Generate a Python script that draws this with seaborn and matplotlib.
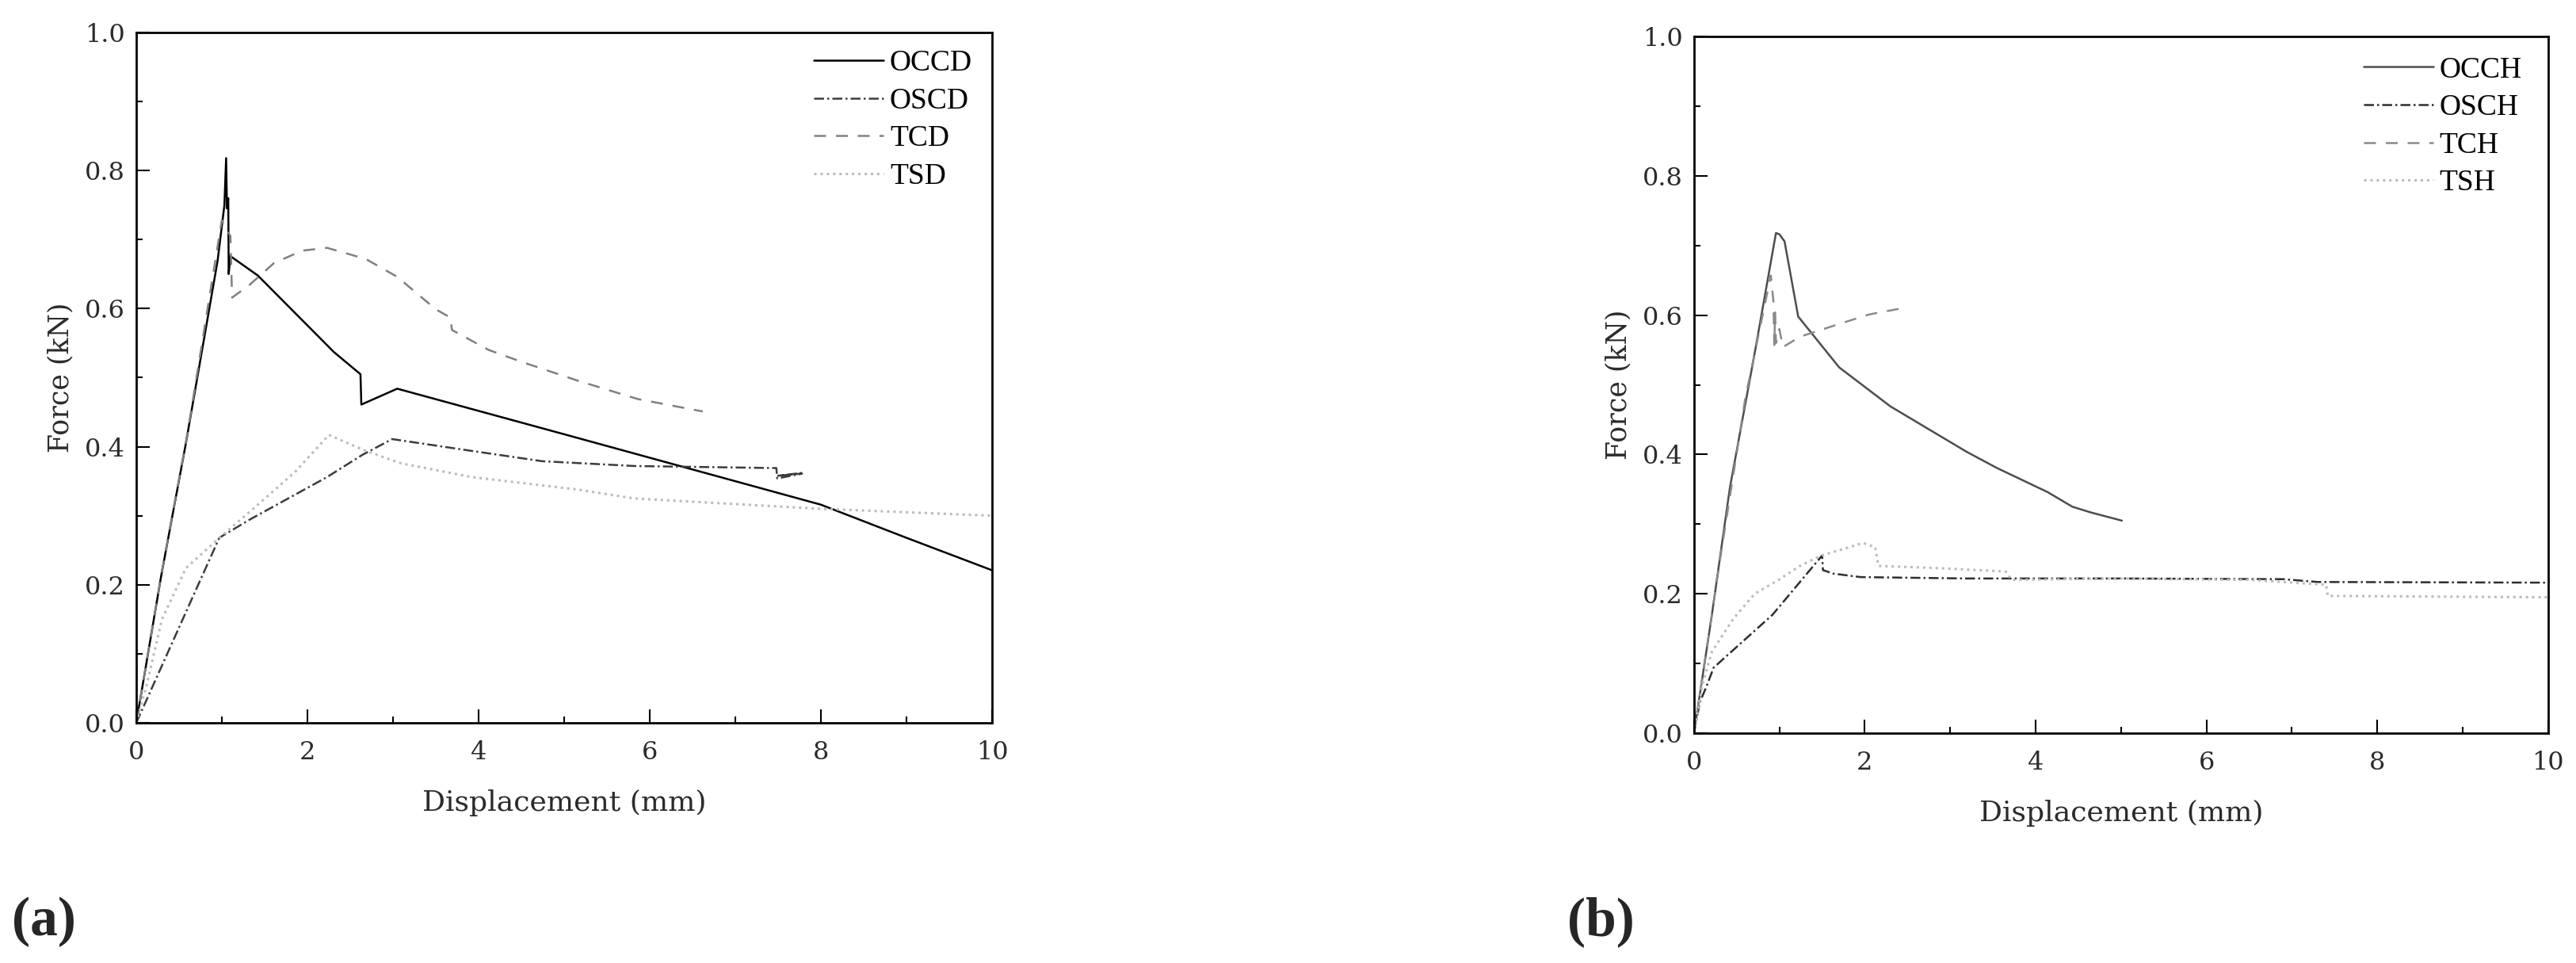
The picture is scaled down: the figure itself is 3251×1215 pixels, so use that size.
import matplotlib
matplotlib.use("Agg")
import matplotlib.pyplot as plt
from matplotlib.ticker import MultipleLocator, FormatStrFormatter
from matplotlib.font_manager import FontProperties
import seaborn as sns
import pandas as pd

# (a) displacement-force curves, D series
occd_x = [0, 0.29, 0.58, 0.95, 1.03, 1.05, 1.06, 1.075, 1.08, 1.10, 1.42, 2.31, 2.62, 2.63, 3.05, 5.0, 8.0, 9.0, 10.0]
occd_y = [0, 0.212, 0.405, 0.669, 0.75, 0.818, 0.745, 0.76, 0.65, 0.676, 0.648, 0.537, 0.505, 0.461, 0.484, 0.418, 0.316, 0.268, 0.221]

oscd_x = [0, 0.97, 1.32, 2.23, 2.64, 2.99, 3.75, 4.74, 5.82, 7.48, 7.49, 7.78, 7.50, 7.78]
oscd_y = [0, 0.268, 0.294, 0.356, 0.388, 0.411, 0.397, 0.379, 0.372, 0.369, 0.354, 0.361, 0.358, 0.362]

tcd_x = [0, 0.3, 0.6, 0.95, 1.0, 1.1, 1.12, 1.32, 1.61, 1.94, 2.23, 2.68, 3.05, 3.5, 3.67, 3.69, 4.12, 4.5, 5.15, 5.86, 6.62]
tcd_y = [0, 0.22, 0.42, 0.69, 0.728, 0.705, 0.616, 0.634, 0.666, 0.684, 0.688, 0.672, 0.646, 0.599, 0.587, 0.569, 0.540, 0.523, 0.496, 0.469, 0.451]

tsd_x = [0, 0.12, 0.3, 0.58, 0.99, 1.44, 1.86, 2.25, 2.68, 3.09, 3.92, 5.15, 5.82, 8.0, 10.0]
tsd_y = [0, 0.054, 0.15, 0.224, 0.27, 0.318, 0.364, 0.417, 0.394, 0.376, 0.356, 0.338, 0.325, 0.310, 0.300]

# (b) H series
occh_x = [0, 0.21, 0.42, 0.71, 0.96, 1.0, 1.06, 1.22, 1.70, 2.30, 3.19, 3.54, 4.14, 4.43, 4.64, 5.01]
occh_y = [0, 0.17, 0.352, 0.545, 0.718, 0.716, 0.706, 0.598, 0.525, 0.469, 0.404, 0.381, 0.346, 0.325, 0.317, 0.305]

osch_x = [0, 0.07, 0.14, 0.23, 0.92, 1.50, 1.51, 1.63, 1.95, 3.19, 5.0, 6.9, 7.3, 10.0]
osch_y = [0, 0.045, 0.065, 0.094, 0.17, 0.255, 0.234, 0.229, 0.224, 0.222, 0.222, 0.221, 0.217, 0.216]

tch_x = [0, 0.3, 0.6, 0.90, 0.93, 0.94, 0.95, 0.96, 1.0, 1.04, 1.24, 1.59, 2.05, 2.44]
tch_y = [0, 0.245, 0.48, 0.657, 0.62, 0.557, 0.604, 0.56, 0.58, 0.554, 0.569, 0.583, 0.601, 0.610]

tsh_x = [0, 0.1, 0.21, 0.46, 0.71, 0.99, 1.24, 1.49, 1.74, 1.98, 2.12, 2.16, 2.83, 3.65, 3.72, 5.0, 6.5, 7.4, 7.42, 10.0]
tsh_y = [0, 0.07, 0.117, 0.164, 0.2, 0.22, 0.24, 0.255, 0.264, 0.273, 0.267, 0.240, 0.237, 0.232, 0.220, 0.222, 0.220, 0.213, 0.197, 0.195]

panels = [
    {
        "rect": [0.0529, 0.2494, 0.3322, 0.7169],
        "legend_at": (0.792, 0.975),
        "tag": "(a)", "tag_x": 0.0046,
        "series": [
            ("OCCD", occd_x, occd_y, "#000000", "-"),
            ("OSCD", oscd_x, oscd_y, "#3c3c3c", (0, (5, 1.6, 1, 1.6))),
            ("TCD", tcd_x, tcd_y, "#808080", (0, (6, 5))),
            ("TSD", tsd_x, tsd_y, "#bcbcbc", (0, (1.0, 1.6))),
        ],
    },
    {
        "rect": [0.6576, 0.2387, 0.3316, 0.7234],
        "legend_at": (0.784, 0.9716),
        "tag": "(b)", "tag_x": 0.6084,
        "series": [
            ("OCCH", occh_x, occh_y, "#4d4d4d", "-"),
            ("OSCH", osch_x, osch_y, "#2e2e2e", (0, (5, 1.6, 1, 1.6))),
            ("TCH", tch_x, tch_y, "#8a8a8a", (0, (6, 5))),
            ("TSH", tsh_x, tsh_y, "#bcbcbc", (0, (1.0, 1.6))),
        ],
    },
]

sns.set_style("ticks")
plt.rcParams["font.family"] = ["DejaVu Serif"]

label_color = "#2b2b2b"
tag_font = FontProperties(family="Liberation Serif", weight="bold", size=50)

fig = plt.figure(figsize=(32.51, 12.15), dpi=100)

for p in panels:
    ax = fig.add_axes(p["rect"])
    for name, xs, ys, color, ls in p["series"]:
        df = pd.DataFrame({"x": xs, "y": ys})
        lw = 2.2 if name.startswith("TS") else 1.8
        sns.lineplot(data=df, x="x", y="y", ax=ax, sort=False, estimator=None,
                     color=color, linewidth=lw, linestyle=ls, label=name)

    ax.set_xlim(0, 10)
    ax.set_ylim(0, 1.0)
    ax.xaxis.set_major_locator(MultipleLocator(2))
    ax.xaxis.set_minor_locator(MultipleLocator(1))
    ax.yaxis.set_major_locator(MultipleLocator(0.2))
    ax.yaxis.set_minor_locator(MultipleLocator(0.1))
    ax.xaxis.set_major_formatter(FormatStrFormatter("%d"))
    ax.yaxis.set_major_formatter(FormatStrFormatter("%.1f"))
    ax.tick_params(which="both", direction="in", top=False, right=False,
                   width=1.5, colors="black", labelcolor=label_color, labelsize=23)
    ax.tick_params(axis="x", which="major", length=12, pad=16)
    ax.tick_params(axis="y", which="major", length=12, pad=10)
    ax.tick_params(which="minor", length=6)
    for s in ax.spines.values():
        s.set_visible(True)
        s.set_linewidth(2)
        s.set_color("black")

    ax.set_xlabel("Displacement (mm)", fontsize=26, color=label_color, labelpad=22)
    ax.set_ylabel("Force (kN)", fontsize=25, color=label_color, labelpad=10)

    leg = ax.legend(loc="upper left", bbox_to_anchor=p["legend_at"], frameon=False,
                    borderpad=0, borderaxespad=0, handlelength=2.35, handletextpad=0.2,
                    labelspacing=0.35, prop={"family": "Liberation Serif", "size": 27})
    for t in leg.get_texts():
        t.set_color("black")

    fig.text(p["tag_x"], 0.0288, p["tag"], fontproperties=tag_font,
             ha="left", va="baseline")

fig.savefig("out.png", dpi=100)
